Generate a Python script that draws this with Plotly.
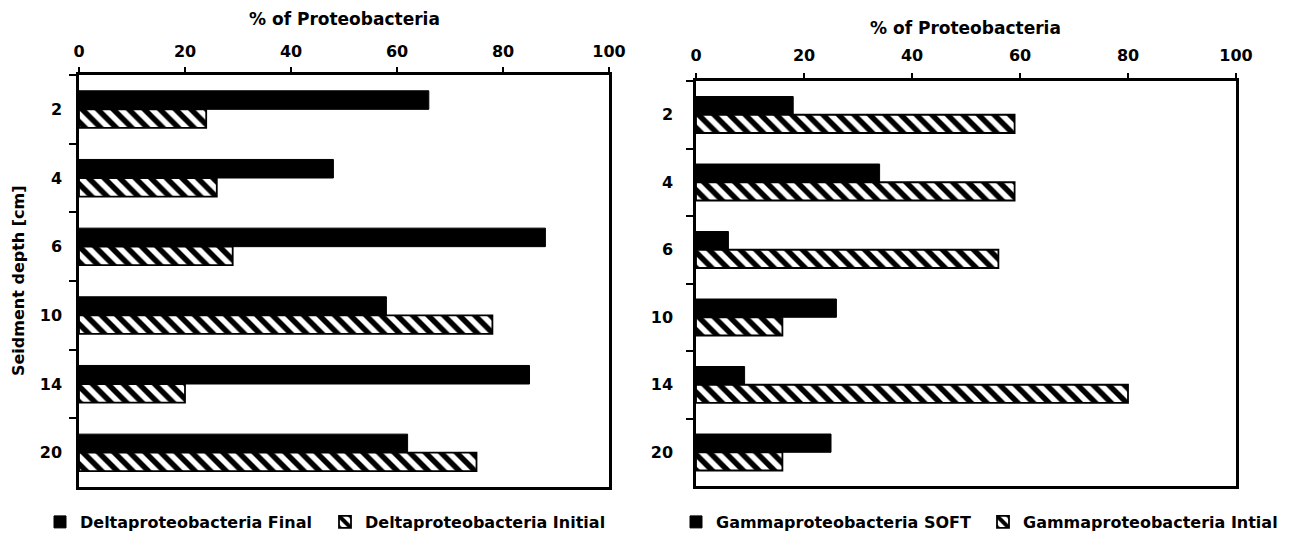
import plotly.graph_objects as go

depths = ["2", "4", "6", "10", "14", "20"]

delta_final = [66, 48, 88, 58, 85, 62]
delta_initial = [24, 26, 29, 78, 20, 75]

gamma_soft = [18, 34, 6, 26, 9, 25]
gamma_initial = [59, 59, 56, 16, 80, 16]

x_ticks = [0, 20, 40, 60, 80, 100]

FONT = "DejaVu Sans, Arial, sans-serif"
W, H = 1296, 533
OFF = 8  # page margin around the plotly div


def px_x(p):
    return (p - OFF) / W


def px_y(p):
    return 1 - (p - OFF) / H


hatch = dict(shape="\\", fgcolor="black", fgopacity=1, bgcolor="white",
             size=11, solidity=0.5)


def solid(name, x, xa, ya, leg):
    return go.Bar(y=depths, x=x, name=name, orientation="h", xaxis=xa, yaxis=ya,
                  legend=leg, marker=dict(color="black", line=dict(color="black", width=1)))


def hatched(name, x, xa, ya, leg):
    return go.Bar(y=depths, x=x, name=name, orientation="h", xaxis=xa, yaxis=ya,
                  legend=leg, marker=dict(color="white", pattern=hatch,
                                          line=dict(color="black", width=1.8)))


fig = go.Figure()
fig.add_trace(solid("Deltaproteobacteria Final", delta_final, "x", "y", "legend"))
fig.add_trace(hatched("Deltaproteobacteria Initial", delta_initial, "x", "y", "legend"))
fig.add_trace(solid("Gammaproteobacteria SOFT", gamma_soft, "x2", "y2", "legend2"))
fig.add_trace(hatched("Gammaproteobacteria Intial", gamma_initial, "x2", "y2", "legend2"))

tick_font = dict(family=FONT, size=16, color="black", weight="bold")
xaxis_style = dict(range=[0, 100], tickvals=x_ticks, side="top", showline=True,
                   linecolor="black", linewidth=2.5, mirror=True, ticks="outside",
                   ticklen=5, tickwidth=2, tickcolor="black", showgrid=False,
                   zeroline=False, automargin=False, tickfont=tick_font)
yaxis_style = dict(type="category", autorange="reversed", showline=True,
                   linecolor="black", linewidth=2.5, mirror=True, ticks="outside",
                   tickson="boundaries", ticklen=7, tickwidth=2, tickcolor="black",
                   showgrid=False, zeroline=False, automargin=False, tickfont=tick_font)

legend_style = dict(orientation="h", yanchor="middle", xanchor="left", y=px_y(522),
                    font=dict(family=FONT, size=16, color="black", weight="bold"),
                    itemwidth=30, traceorder="normal", bgcolor="rgba(0,0,0,0)")

title_font = dict(family=FONT, size=17, color="black", weight="bold")

fig.update_layout(
    width=W, height=H,
    margin=dict(l=0, r=0, t=0, b=0),
    paper_bgcolor="white", plot_bgcolor="white",
    barmode="group", bargap=0.46, bargroupgap=0,
    showlegend=True,
    xaxis=dict(xaxis_style, domain=[px_x(79), px_x(609)], anchor="y", ticklabelstandoff=4),
    yaxis=dict(yaxis_style, domain=[px_y(487), px_y(75)], anchor="x", ticklabelstandoff=11),
    xaxis2=dict(xaxis_style, domain=[px_x(696), px_x(1236)], anchor="y2", ticklabelstandoff=6),
    yaxis2=dict(yaxis_style, domain=[px_y(486), px_y(81)], anchor="x2", ticklabelstandoff=17),
    legend=dict(legend_style, x=px_x(40), entrywidth=240),
    legend2=dict(legend_style, x=px_x(676), entrywidth=262),
    annotations=[
        dict(text="% of Proteobacteria", x=px_x(344), y=px_y(19), xref="paper", yref="paper",
             xanchor="center", yanchor="middle", showarrow=False, font=title_font),
        dict(text="% of Proteobacteria", x=px_x(966), y=px_y(28), xref="paper", yref="paper",
             xanchor="center", yanchor="middle", showarrow=False, font=title_font),
        dict(text="Seidment depth [cm]", x=px_x(18), y=px_y(281), xref="paper", yref="paper",
             xanchor="center", yanchor="middle", textangle=-90, showarrow=False,
             font=dict(family=FONT, size=16, color="black", weight="bold")),
    ],
)

fig.write_html("out.html")
